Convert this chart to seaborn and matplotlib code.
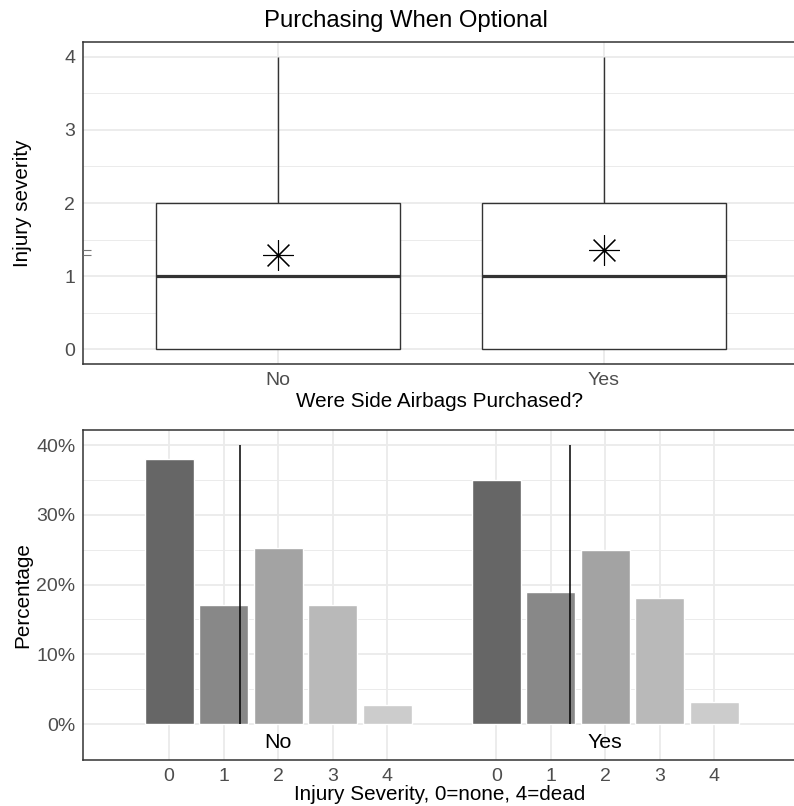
import numpy as np
import pandas as pd
import matplotlib
matplotlib.use("Agg")
import matplotlib.pyplot as plt
import seaborn as sns
from matplotlib.ticker import FuncFormatter, MultipleLocator

# Injury severity distribution (percent of occupants) by side-airbag purchase
groups = ["No", "Yes"]
severity_levels = [0, 1, 2, 3, 4]
pct_no = [38.0, 17.0, 25.3, 17.0, 2.7]
pct_yes = [35.0, 18.9, 24.9, 18.1, 3.1]
group_offset = [0, 6]
fill_greys = ["#666666", "#888888", "#A3A3A3", "#B9B9B9", "#CCCCCC"]

sns.set_style("white")
plt.rcParams["font.family"] = ["Liberation Sans", "DejaVu Sans"]

GRID = "#EBEBEB"
DARK = "#333333"
TICKTXT = "#4D4D4D"
TICK_FS = 14
TITLE_FS = 14.9

# occupant-level records: ten records per percentage point
records = []
for g, pcts in zip(groups, [pct_no, pct_yes]):
    for s, p in zip(severity_levels, pcts):
        records += [(g, s)] * int(round(p * 10))
people = pd.DataFrame(records, columns=["purchased", "severity"])
means = people.groupby("purchased")["severity"].mean().reindex(groups)

bars = pd.DataFrame({
    "pos": [s + off for off in group_offset for s in severity_levels],
    "pct": pct_no + pct_yes,
    "level": [str(s) for _ in groups for s in severity_levels],
})

W, H = 794, 806
fig = plt.figure(figsize=(W / 100, H / 100), dpi=100)
ax1 = fig.add_axes([83 / W, 1 - 364 / H, 713 / W, 322 / H])
ax2 = fig.add_axes([83 / W, 1 - 760 / H, 713 / W, 330 / H])

# --- top: box plot of severity with mean marker ---
sns.boxplot(
    data=people, x="purchased", y="severity", order=groups, ax=ax1,
    width=0.75, color="white", linecolor=DARK, linewidth=1.0,
    showcaps=False, showfliers=False, showmeans=True,
    medianprops=dict(color=DARK, linewidth=2.3),
    meanprops=dict(marker=(8, 2, 0), markersize=22, markeredgecolor="black",
                   markerfacecolor="black", markeredgewidth=0.8),
)
ax1.hlines(means.values, 0, 0.011, transform=ax1.get_yaxis_transform(),
           color="#777777", lw=0.8, zorder=5)
ax1.set_xlim(-0.6, 1.59)
ax1.set_ylim(-0.2, 4.2)
ax1.set_yticks([0, 1, 2, 3, 4])
ax1.yaxis.set_minor_locator(MultipleLocator(0.5))
ax1.set_xticks([0, 1])
ax1.set_xticklabels(groups)
ax1.set_xlabel("Were Side Airbags Purchased?", fontsize=TITLE_FS, va="center")
ax1.xaxis.set_label_coords(0.5, -0.118)
ax1.set_ylabel("Injury severity", fontsize=TITLE_FS, va="center")
ax1.yaxis.set_label_coords(-0.085, 0.5)

# --- bottom: percentage bars per severity level, grouped by purchase ---
sns.barplot(
    data=bars, x="pos", y="pct", hue="level",
    hue_order=[str(s) for s in severity_levels], palette=fill_greys,
    native_scale=True, dodge=False, width=0.9, errorbar=None,
    legend=False, saturation=1, ax=ax2, zorder=2,
)
ax2.vlines([m + off for m, off in zip(means.values, group_offset)], 0, 40,
           color="black", lw=1.1, zorder=4)
for g, off in zip(groups, group_offset):
    ax2.text(off + 2, -2.6, g, ha="center", va="center", fontsize=15.4,
             color="black")
ax2.set_xlim(-1.58, 11.5)
ax2.set_ylim(-5.15, 42.15)
ax2.set_yticks([0, 10, 20, 30, 40])
ax2.set_yticks([5, 15, 25, 35], minor=True)
ax2.yaxis.set_major_formatter(FuncFormatter(lambda v, _: f"{v:.0f}%"))
xt = [s + off for off in group_offset for s in severity_levels]
ax2.set_xticks(xt)
ax2.set_xticklabels([str(s) for _ in groups for s in severity_levels])
ax2.set_xlabel("Injury Severity, 0=none, 4=dead", fontsize=TITLE_FS, va="center")
ax2.xaxis.set_label_coords(0.5, -0.106)
ax2.set_ylabel("Percentage", fontsize=TITLE_FS, va="center")
ax2.yaxis.set_label_coords(-0.085, 0.5)

for ax in (ax1, ax2):
    ax.set_axisbelow(True)
    ax.grid(which="major", color=GRID, lw=1.3)
    ax.grid(which="minor", axis="y", color=GRID, lw=0.7)
    for sp in ax.spines.values():
        sp.set_color(DARK)
        sp.set_linewidth(1.1)
    ax.tick_params(which="major", length=3, width=1.0, color=DARK,
                   labelsize=TICK_FS, labelcolor=TICKTXT, pad=2.5)
    ax.tick_params(which="minor", length=0)
    ax.xaxis.label.set_color("black")
    ax.yaxis.label.set_color("black")

fig.text(406 / W, 1 - 27 / H, "Purchasing When Optional", ha="center",
         va="baseline", fontsize=17.2, color="black")

fig.savefig("out.png", dpi=100)
